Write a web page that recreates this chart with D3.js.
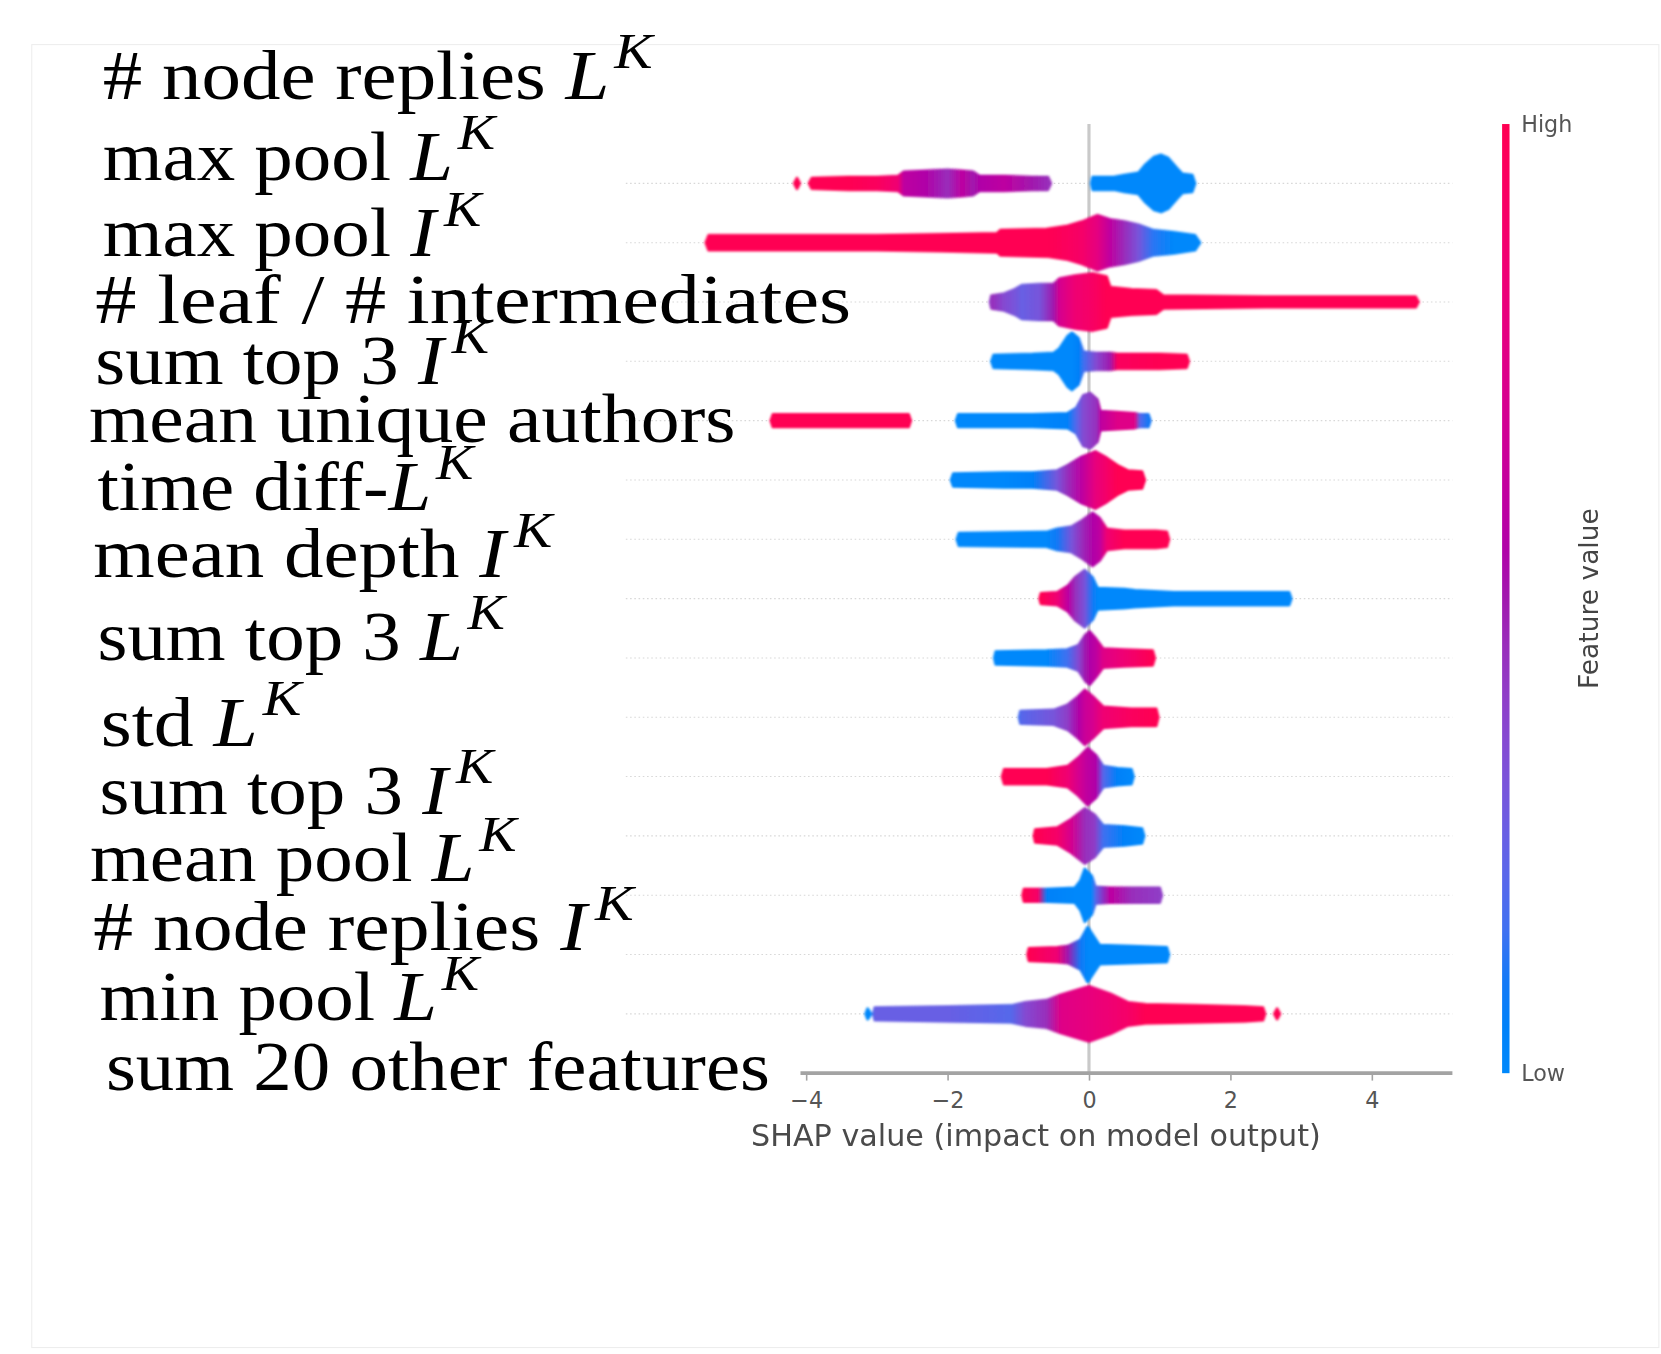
<!DOCTYPE html>
<html>
<head>
<meta charset="utf-8">
<script src="https://cdn.jsdelivr.net/npm/d3@7"></script>
<style>
  body { margin: 0; background: #fff; }
  svg { display: block; }
  .lbl { white-space: pre; }
</style>
</head>
<body>
<div id="chart"></div>
<script>
// feature names (plain part + math symbol, superscript K when math is set)
var features = ["# node replies ", "max pool ", "max pool ", "# leaf / # intermediates", "sum top 3 ",
    "mean unique authors", "time diff-", "mean depth ", "sum top 3 ", "std ", "sum top 3 ",
    "mean pool ", "# node replies ", "min pool ", "sum 20 other features"];
var featureMath = ["L", "L", "I", "", "I", "", "L", "I", "L", "L", "I", "L", "I", "L", ""];

// beeswarm profile per row: [shap value, spread, feature value 0..1]
// two zero-spread points in a row mark a gap
var rows = [
    [[-4.17,0,1],[-4.13,5,1],[-4.09,0,1],[-3.96,0,1],[-3.92,5,1],[-3.4,6,1],[-3.0,6,0.95],[-2.7,7,0.85],[-2.62,11,0.6],[-2.3,12,0.55],[-2.0,13,0.45],[-1.8,12,0.6],[-1.64,11,0.5],[-1.55,7,0.55],[-1.2,7,0.6],[-0.8,6,0.5],[-0.58,6,0.45],[-0.54,0,0.45],
     [0.03,0,0],[0.05,6,0],[0.35,6,0],[0.5,8,0],[0.7,10,0],[0.8,18,0],[0.92,25,0],[1.02,27,0],[1.12,24,0],[1.25,14,0],[1.32,9,0],[1.46,8,0],[1.5,0,0]],
    [[-5.42,0,1],[-5.38,7,1],[-4.0,7,1],[-3.0,7,1],[-2.1,8,1],[-1.3,9,1],[-1.25,12,1],[-0.6,13,1],[-0.3,16,0.95],[-0.1,20,0.9],[0.12,26,0.78],[0.3,22,0.6],[0.5,20,0.45],[0.7,17,0.3],[0.9,12,0.12],[1.2,10,0],[1.5,7,0],[1.57,0,0]],
    [[-1.4,0,0.4],[-1.38,6,0.45],[-1.2,8,0.35],[-1.05,12,0.3],[-0.95,16,0.25],[-0.7,17,0.3],[-0.5,17,0.5],[-0.42,22,0.7],[-0.2,25,0.85],[0.05,27,0.92],[0.25,24,1],[0.3,14,1],[0.6,12,1],[0.95,11,1],[1.05,6,1],[2.5,5,1],[4.0,5,1],[4.62,5,1],[4.66,0,1]],
    [[-1.38,0,0],[-1.35,6,0],[-0.8,7,0],[-0.5,8,0],[-0.42,12,0],[-0.3,24,0],[-0.24,27,0],[-0.15,22,0.05],[-0.08,9,0.15],[0.1,8,0.35],[0.3,8,0.5],[0.4,7,0.95],[1.0,7,1],[1.38,6,1],[1.41,0,1]],
    [[-4.5,0,1],[-4.47,6,1],[-2.55,6,1],[-2.52,0,1],
     [-1.88,0,0],[-1.85,6,0],[-0.8,6,0],[-0.3,7,0.05],[-0.18,12,0.2],[-0.08,24,0.35],[0.02,26,0.4],[0.12,20,0.45],[0.16,9,0.6],[0.4,8,0.75],[0.65,7,0.75],[0.72,6,0.2],[0.84,6,0.1],[0.87,0,0.1]],
    [[-1.95,0,0],[-1.92,6,0],[-1.2,7,0],[-0.8,7,0.05],[-0.45,9,0.3],[-0.3,14,0.45],[-0.1,22,0.6],[0.09,27,0.8],[0.25,21,0.9],[0.4,14,1],[0.55,9,1],[0.75,8,1],[0.79,0,1]],
    [[-1.87,0,0],[-1.84,6,0],[-0.6,7,0],[-0.45,10,0.1],[-0.25,12,0.3],[-0.1,18,0.45],[0.05,25,0.55],[0.15,20,0.6],[0.25,10,0.85],[0.5,8,1],[0.95,8,1],[1.1,7,1],[1.13,0,1]],
    [[-0.7,0,1],[-0.68,5,1],[-0.45,6,0.85],[-0.3,12,0.6],[-0.2,20,0.45],[-0.06,27,0.3],[0.05,20,0.1],[0.12,10,0],[0.5,9,0],[0.65,8,0],[1.2,6,0],[2.0,6,0],[2.83,6,0],[2.86,0,0]],
    [[-1.34,0,0],[-1.32,6,0],[-0.6,7,0],[-0.31,8,0.15],[-0.15,12,0.35],[-0.05,22,0.5],[0.01,25,0.55],[0.1,18,0.6],[0.2,9,0.75],[0.5,8,0.85],[0.9,7,1],[0.93,0,1]],
    [[-0.99,0,0.15],[-0.97,6,0.2],[-0.5,7,0.3],[-0.3,12,0.4],[-0.15,20,0.55],[-0.06,26,0.65],[0.05,20,0.7],[0.2,10,0.85],[0.6,8,0.95],[0.95,8,1],[0.98,0,1]],
    [[-1.23,0,1],[-1.2,7,1],[-0.6,7,1],[-0.3,10,0.85],[-0.15,18,0.7],[-0.02,27,0.6],[0.1,20,0.55],[0.2,10,0.2],[0.4,8,0.05],[0.6,7,0],[0.63,0,0]],
    [[-0.78,0,1],[-0.76,6,1],[-0.45,8,0.9],[-0.25,16,0.7],[-0.06,26,0.45],[0.08,20,0.4],[0.2,10,0.15],[0.5,9,0.05],[0.75,7,0],[0.78,0,0]],
    [[-0.94,0,1],[-0.92,6,1],[-0.72,6,0.9],[-0.6,6,0.05],[-0.2,7,0],[-0.12,14,0],[-0.06,25,0],[0.04,18,0],[0.09,8,0.2],[0.3,7,0.6],[0.6,7,0.45],[1.0,7,0.4],[1.03,0,0.4]],
    [[-0.87,0,1],[-0.85,6,1],[-0.45,7,0.85],[-0.3,8,0.5],[-0.12,14,0.1],[-0.02,26,0],[0.08,16,0],[0.15,9,0],[0.6,8,0],[1.1,7,0],[1.13,0,0]],
    [[-3.16,0,0],[-3.13,5,0],[-3.08,0,0],[-3.05,0,0.2],[-3.03,6,0.25],[-2.0,7,0.25],[-1.1,8,0.2],[-0.9,11,0.35],[-0.6,13,0.45],[-0.4,18,0.75],[0.0,26,0.8],[0.3,19,0.85],[0.55,11,0.9],[0.8,9,1],[1.5,8,1],[2.2,7,1],[2.46,6,1],[2.49,0,1],[2.62,0,1],[2.66,5,1],[2.7,0,1]]
];

var xTicks = [-4, -2, 0, 2, 4];
var xExtent = [-4.08, 5.14];

// where the pasted labels sit: left x, baseline y, horizontal stretch
var labelPos = [[97,93,1.13],[97,170,1.1],[97,242,1.1],[90,305,1.18],[90,362,1.1],[84,417,1.11],[92,481,1.1],[88,545,1.13],
    [92,623,1.1],[95,704,1.14],[94,768,1.1],[85,832,1.1],[88,897,1.14],[94,963,1.1],[100,1029,1.1]];

var W = 1568, H = 1278;

var svg = d3.select("#chart").append("svg")
    .attr("width", 1661)
    .attr("height", 1354)
    .attr("viewBox", "0 0 " + W + " " + H);

var defs = svg.append("defs");
defs.append("filter").attr("id", "soft")
    .append("feGaussianBlur").attr("stdDeviation", 0.9);

// shap red_blue colormap (lch blend)
function fvColor(t) {
    var l = t < 0.5 ? 54 - 28 * t : 40 + 28 * (t - 0.5);
    return d3.hcl(267 + 113.3 * t, 70 + 20 * t, l).formatHex();
}

svg.append("rect")
    .attr("x", 30).attr("y", 42)
    .attr("width", 1536).attr("height", 1230)
    .attr("fill", "none").attr("stroke", "#ededed");

var x = d3.scaleLinear().domain([-4, 4]).range([761, 1295]);
var y = d3.scalePoint().domain(d3.range(features.length)).range([173, 957]);
var step = y.step();
var spread = d3.scaleLinear().domain([0, 28]).range([0, step / 2]);

// grid lines
svg.append("g").selectAll("line").data(rows).enter().append("line")
    .attr("x1", x(-6.55)).attr("x2", x(xExtent[1]))
    .attr("y1", function(d, i) { return y(i); })
    .attr("y2", function(d, i) { return y(i); })
    .attr("stroke", "#d8d8d8")
    .attr("stroke-dasharray", "1.5,2.5");

// zero line
svg.append("line")
    .attr("x1", x(0)).attr("x2", x(0))
    .attr("y1", y(0) - step).attr("y2", y(features.length - 1) + step)
    .attr("stroke", "#c9c9c9").attr("stroke-width", 3);

var area = d3.area()
    .x(function(d) { return x(d[0]); })
    .y0(function(d) { return -spread(d[1]); })
    .y1(function(d) { return spread(d[1]); })
    .curve(d3.curveLinear);

// cut a profile into pieces wherever two zero-spread points follow each other
function pieces(r) {
    var out = [[r[0]]];
    for (var k = 1; k < r.length; k++) {
        if (r[k][1] === 0 && r[k - 1][1] === 0) out.push([]);
        out[out.length - 1].push(r[k]);
    }
    return out;
}

var rowG = svg.append("g").attr("filter", "url(#soft)");

rows.forEach(function(r, i) {
    var x1 = x(r[0][0]), x2 = x(r[r.length - 1][0]);
    var grad = defs.append("linearGradient")
        .attr("id", "rowgrad" + i)
        .attr("gradientUnits", "userSpaceOnUse")
        .attr("x1", x1).attr("x2", x2)
        .attr("y1", 0).attr("y2", 0);
    grad.selectAll("stop").data(r).enter().append("stop")
        .attr("offset", function(d) { return (x(d[0]) - x1) / (x2 - x1); })
        .attr("stop-color", function(d) { return fvColor(d[2]); });

    rowG.append("g")
        .attr("transform", "translate(0," + y(i) + ")")
        .selectAll("path").data(pieces(r)).enter().append("path")
        .attr("d", area)
        .attr("fill", "url(#rowgrad" + i + ")")
        .attr("stroke", "url(#rowgrad" + i + ")")
        .attr("stroke-width", 2.5)
        .attr("stroke-linejoin", "round");
});

// x axis
var axisY = y(features.length - 1) + step;
var axisG = svg.append("g")
    .attr("transform", "translate(0," + axisY + ")")
    .call(d3.axisBottom(x).tickValues(xTicks).tickSize(7).tickFormat(d3.format("d")));
axisG.select(".domain").remove();
axisG.append("line")
    .attr("x1", x(xExtent[0])).attr("x2", x(xExtent[1]))
    .attr("stroke", "#a3a3a3").attr("stroke-width", 3.5);
axisG.selectAll(".tick line").attr("stroke", "#a3a3a3").attr("stroke-width", 1.5);
axisG.selectAll(".tick text")
    .attr("y", 18)
    .attr("fill", "#555")
    .style("font-family", "DejaVu Sans")
    .style("font-size", "21px");

svg.append("text")
    .attr("x", 978).attr("y", 1082)
    .attr("text-anchor", "middle")
    .attr("fill", "#4a4a4a")
    .style("font-family", "DejaVu Sans")
    .style("font-size", "28.5px")
    .text("SHAP value (impact on model output)");

// colour bar
var cbar = defs.append("linearGradient").attr("id", "cbar")
    .attr("x1", 0).attr("x2", 0).attr("y1", 1).attr("y2", 0);
cbar.selectAll("stop").data(d3.range(0, 1.0001, 0.05)).enter().append("stop")
    .attr("offset", function(d) { return d; })
    .attr("stop-color", function(d) { return fvColor(d); });

var cbTop = y(0) - step, cbBottom = axisY;
svg.append("rect")
    .attr("x", 1418).attr("y", cbTop)
    .attr("width", 7).attr("height", cbBottom - cbTop)
    .attr("fill", "url(#cbar)");

svg.append("text").attr("x", 1436).attr("y", cbTop).attr("dy", "0.35em")
    .attr("fill", "#555").style("font-family", "DejaVu Sans").style("font-size", "21px")
    .text("High");
svg.append("text").attr("x", 1436).attr("y", cbBottom).attr("dy", "0.35em")
    .attr("fill", "#555").style("font-family", "DejaVu Sans").style("font-size", "21px")
    .text("Low");
svg.append("text")
    .attr("transform", "translate(1500," + ((cbTop + cbBottom) / 2) + ") rotate(-90)")
    .attr("text-anchor", "middle").attr("dy", "0.35em")
    .attr("fill", "#444").style("font-family", "DejaVu Sans").style("font-size", "25px")
    .text("Feature value");

// feature labels (LaTeX-style, pasted over the plot)
features.forEach(function(f, i) {
    var t = svg.append("text")
        .attr("class", "lbl")
        .attr("transform", "translate(" + labelPos[i][0] + "," + labelPos[i][1] + ") scale(" + labelPos[i][2] + ",1)")
        .attr("fill", "#000")
        .style("font-family", "Liberation Serif")
        .style("font-size", "66px");
    t.append("tspan").text(f);
    if (featureMath[i]) {
        t.append("tspan").style("font-style", "italic").text(featureMath[i]);
        t.append("tspan")
            .attr("dx", featureMath[i] === "I" ? 7 : 4).attr("dy", -29)
            .style("font-style", "italic")
            .style("font-size", "48px")
            .text("K");
    }
});
</script>
</body>
</html>
